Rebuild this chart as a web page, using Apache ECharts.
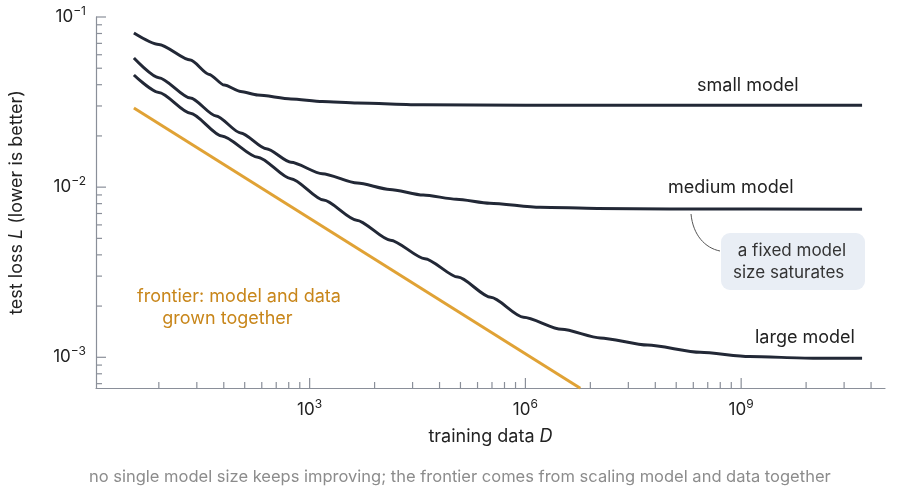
<!doctype html>
<html>
<head>
<meta charset="UTF-8">
<title>scaling</title>
<script src="https://cdn.jsdelivr.net/npm/echarts@6/dist/echarts.min.js"></script>
<style>html,body{margin:0;padding:0;background:#fff}#main{width:911px;height:491px}</style>
</head>
<body>
<div id="main"></div>
<script>
// data: [training data D, test loss L]
var smallModel = [[3.6,0.0806],[8,0.069],[22,0.0558],[40,0.046],[65,0.0398],[110,0.0365],[190,0.0348],[550,0.0330],[1500,0.0319],[4600,0.0312],[38000,0.0305],[1e6,0.0303],[1e8,0.0303],[4.8e10,0.0303]];
var mediumModel = [[3.6,0.0574],[8,0.044],[22,0.0334],[50,0.0262],[110,0.0208],[250,0.0168],[550,0.0140],[1500,0.0120],[4600,0.01057],[13000,0.0097],[38000,0.00898],[1.1e5,0.0085],[3.2e5,0.00805],[1.6e6,0.00762],[1e7,0.0075],[1e8,0.00745],[4.8e10,0.00742]];
var largeModel = [[3.6,0.0456],[8,0.036],[22,0.0272],[60,0.0200],[190,0.0150],[550,0.0112],[1560,0.00839],[4500,0.0064],[13300,0.00488],[40000,0.0038],[1.15e5,0.00296],[3.3e5,0.00225],[9.4e5,0.00172],[3.2e6,0.00146],[1.1e7,0.00130],[5e7,0.00118],[2.7e8,0.00107],[1.3e9,0.00101],[1e10,0.000988],[4.8e10,0.000986]];
var frontier = [[3.6,0.0292],[5.8e6,0.000658]];
var xMajor = [1e3, 1e6, 1e9];
var xMinor = [8, 27, 64, 125, 216, 343, 512, 729];
var yMajor = [1e-3, 1e-2, 1e-1];
var yMinor = [2,3,4,5,6,7,8,9];

var X0 = 1.07, X1 = 1e11, Y0 = 0.00066, Y1 = 0.1;
var tickColor = '#8a8f99', dark = '#222836', orange = '#e0a235';

var xTicks = [], yTicks = [];
[1, 1e3, 1e6, 1e9].forEach(function (b) {
  xMinor.forEach(function (k) { if (b * k < X1) xTicks.push([b * k, 6]); });
});
xMajor.forEach(function (v) { xTicks.push([v, 10]); });
[1e-4, 1e-3, 1e-2].forEach(function (b) {
  yMinor.forEach(function (k) { if (b * k > Y0 && b * k < Y1) yTicks.push([b * k, 6]); });
});
yMajor.forEach(function (v) { yTicks.push([v, 10]); });

function fmt(v) {
  var e = Math.log10(v), r = Math.round(e);
  if (Math.abs(e - r) > 1e-6 || r === 0) return '';
  return '10{s|' + (r < 0 ? '\u2212' + (-r) : r) + '}';
}
var rich = { s: { fontSize: 12, padding: [0, 0, 11, 0], color: '#222' } };

var chart = echarts.init(document.getElementById('main'));
var lineBase = { type: 'line', smooth: 0.25, smoothMonotone: 'x', showSymbol: false, symbol: 'none', silent: true };
chart.setOption({
  animation: false,
  textStyle: { fontFamily: 'Inter' },
  grid: { left: 95, right: 26, top: 17, bottom: 103 },
  xAxis: {
    type: 'log', logBase: 1000, min: X0, max: X1,
    name: 'training data {i|D}', nameLocation: 'middle', nameGap: 40,
    nameTextStyle: { fontSize: 18, color: '#222', rich: { i: { fontStyle: 'italic', fontSize: 18 } } },
    axisLine: { lineStyle: { color: tickColor, width: 1.2 } },
    axisTick: { show: false }, splitLine: { show: false }, minorTick: { show: false },
    axisLabel: { formatter: fmt, rich: rich, fontSize: 17, color: '#222', margin: 10, showMinLabel: false, showMaxLabel: false }
  },
  yAxis: {
    type: 'log', logBase: 10, min: Y0, max: Y1,
    name: 'test loss {i|L} (lower is better)', nameLocation: 'middle', nameGap: 70, nameRotate: 90,
    nameTextStyle: { fontSize: 18, color: '#222', rich: { i: { fontStyle: 'italic', fontSize: 18 } } },
    axisLine: { show: true, lineStyle: { color: tickColor, width: 1.2 } },
    axisTick: { show: false }, splitLine: { show: false },
    axisLabel: { formatter: fmt, rich: rich, fontSize: 17, color: '#222', margin: 10, showMinLabel: false }
  },
  series: [
    Object.assign({}, lineBase, { name: 'small', data: smallModel, lineStyle: { color: dark, width: 3 } }),
    Object.assign({}, lineBase, { name: 'medium', data: mediumModel, lineStyle: { color: dark, width: 3 } }),
    Object.assign({}, lineBase, { name: 'large', data: largeModel, lineStyle: { color: dark, width: 3 } }),
    Object.assign({}, lineBase, { name: 'frontier', data: frontier, smooth: false, lineStyle: { color: orange, width: 3 } }),
    {
      type: 'custom', silent: true, data: xTicks, z: 1,
      renderItem: function (params, api) {
        var p = api.coord([api.value(0), Y0]);
        return { type: 'line', shape: { x1: p[0], y1: p[1], x2: p[0], y2: p[1] - api.value(1) },
          style: { stroke: tickColor, lineWidth: 1.2 } };
      }
    },
    {
      type: 'custom', silent: true, data: yTicks, z: 1, encode: { x: 1, y: 0 },
      renderItem: function (params, api) {
        var p = api.coord([X0, api.value(0)]);
        return { type: 'line', shape: { x1: p[0], y1: p[1], x2: p[0] + api.value(1), y2: p[1] },
          style: { stroke: tickColor, lineWidth: 1.2 } };
      }
    }
  ],
  graphic: [
    { type: 'text', left: 697, top: 77, style: { text: 'small model', font: '18px Inter', fill: '#222' } },
    { type: 'text', left: 668, top: 179, style: { text: 'medium model', font: '18px Inter', fill: '#222' } },
    { type: 'text', left: 755, top: 329, style: { text: 'large model', font: '18px Inter', fill: '#222' } },
    { type: 'text', left: 137, top: 286, style: { text: 'frontier: model and data\n     grown together', font: '18px Inter', fill: '#c8861a', lineHeight: 22 } },
    { type: 'rect', shape: { x: 721, y: 233, width: 144, height: 57, r: 9 }, style: { fill: '#e9eef5' } },
    { type: 'text', left: 733, top: 240, style: { text: ' a fixed model\nsize saturates', font: '17px Inter', fill: '#333', lineHeight: 22 } },
    { type: 'bezierCurve', shape: { x1: 691, y1: 214, cpx1: 693, cpy1: 235, cpx2: 705, cpy2: 248, x2: 720, y2: 251 },
      style: { stroke: '#555', lineWidth: 1, fill: null } },
    { type: 'text', left: 89, top: 469, style: { text: 'no single model size keeps improving; the frontier comes from scaling model and data together', font: '16.5px Inter', fill: '#8c8c8c' } }
  ]
});
</script>
</body>
</html>
